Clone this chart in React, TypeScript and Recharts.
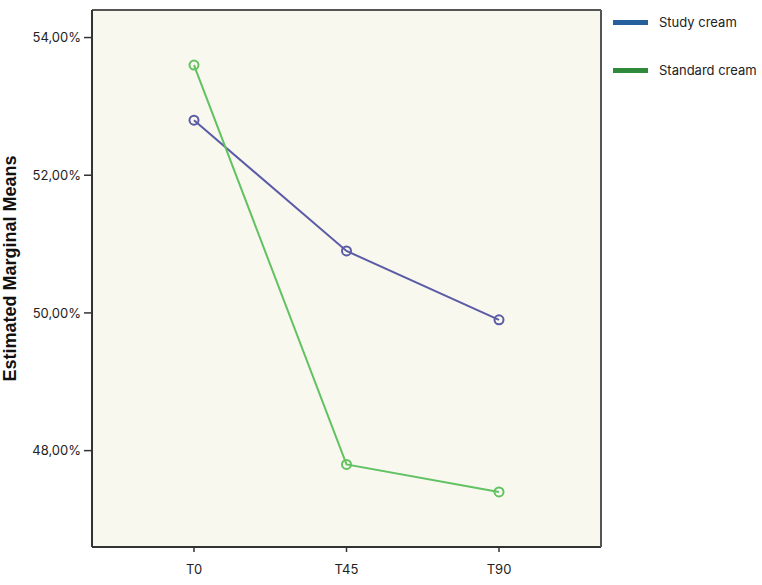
import { LineChart, Line, XAxis, YAxis, CartesianGrid } from "recharts"

const times = ["T0", "T45", "T90"]
const studyCream = [52.8, 50.9, 49.9]
const standardCream = [53.6, 47.8, 47.4]
const yTicks = [48, 50, 52, 54]

const data = times.map((t, i) => ({
  time: t,
  study: studyCream[i],
  standard: standardCream[i],
}))

const font = "Inter, 'Liberation Sans', Arial, sans-serif"
const fmt = (v: number) => v.toFixed(2).replace(".", ",") + "%"

function LegendBox() {
  const items = [
    { label: "Study cream", color: "#255f9c" },
    { label: "Standard cream", color: "#2f8a3c" },
  ]
  return (
    <div style={{ position: "absolute", left: 613, top: 13, fontFamily: font, fontSize: 13, color: "#222" }}>
      {items.map((it) => (
        <div key={it.label} style={{ display: "flex", alignItems: "center", height: 18, marginBottom: 30 }}>
          <div style={{ width: 35, height: 5, background: it.color, marginRight: 11 }} />
          <span>{it.label}</span>
        </div>
      ))}
    </div>
  )
}

export default function App() {
  return (
    <div style={{ position: "absolute", left: 0, top: 0, width: 762, height: 585, background: "#fff" }}>
      <LineChart width={762} height={585} data={data} margin={{ top: 9, right: 160, bottom: 0, left: 0 }}>
        <CartesianGrid fill="#f8f8ef" horizontal={false} vertical={false} />
        <XAxis
          dataKey="time"
          padding={{ left: 102, right: 102 }}
          height={38}
          tickSize={5}
          tickMargin={13}
          axisLine={{ stroke: "#333", strokeWidth: 2 }}
          tickLine={{ stroke: "#333", strokeWidth: 1.5 }}
          tick={{ fill: "#222", fontSize: 13, fontFamily: font }}
        />
        <XAxis
          xAxisId="top"
          dataKey="time"
          orientation="top"
          height={1}
          tick={false}
          tickLine={false}
          axisLine={{ stroke: "#555", strokeWidth: 2 }}
        />
        <YAxis
          domain={[46.6, 54.4]}
          ticks={yTicks}
          width={92}
          tickSize={8}
          tickMargin={3}
          tickFormatter={fmt}
          axisLine={{ stroke: "#333", strokeWidth: 2 }}
          tickLine={{ stroke: "#333", strokeWidth: 1.5 }}
          tick={{ fill: "#222", fontSize: 13, fontFamily: font }}
          label={{
            value: "Estimated Marginal Means",
            angle: -90,
            position: "insideLeft",
            dx: 5,
            dy: -10,
            style: { textAnchor: "middle", fontWeight: "bold", fontSize: 18, fontFamily: "'Liberation Sans', Arial, sans-serif", fill: "#111" },
          }}
        />
        <YAxis
          yAxisId="right"
          orientation="right"
          domain={[46.6, 54.4]}
          width={1}
          tick={false}
          tickLine={false}
          axisLine={{ stroke: "#555", strokeWidth: 2 }}
        />
        <Line
          xAxisId="top"
          yAxisId="right"
          dataKey="study"
          stroke="none"
          dot={false}
          activeDot={false}
          isAnimationActive={false}
        />
        <Line
          dataKey="study"
          stroke="#5b5ba6"
          strokeWidth={2}
          dot={{ r: 4.5, stroke: "#5b5ba6", strokeWidth: 2, fill: "none" }}
          isAnimationActive={false}
        />
        <Line
          dataKey="standard"
          stroke="#62c262"
          strokeWidth={2}
          dot={{ r: 4.5, stroke: "#62c262", strokeWidth: 2, fill: "none" }}
          isAnimationActive={false}
        />
      </LineChart>
      <LegendBox />
    </div>
  )
}
